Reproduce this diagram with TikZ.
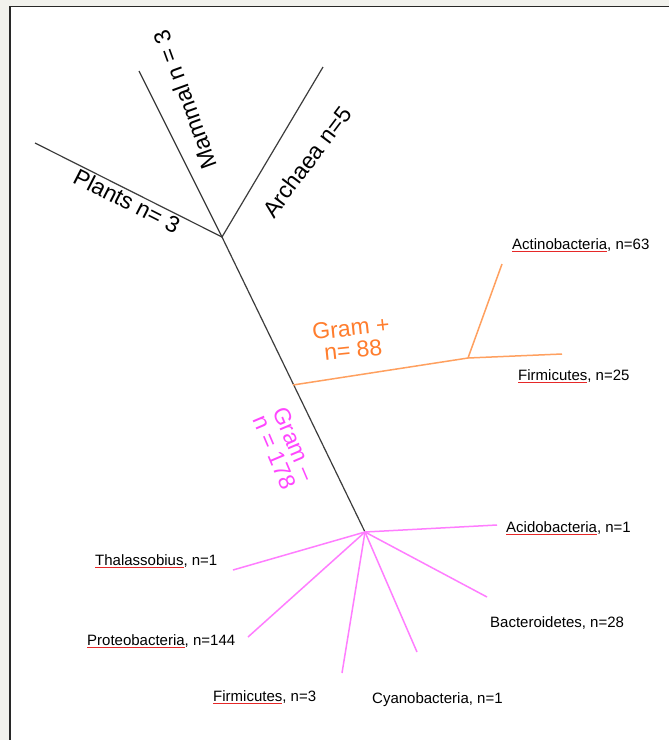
\documentclass[tikz,border=0pt]{standalone}
\usepackage{fontspec}
\setmainfont{Liberation Sans}
\definecolor{PageGray}{RGB}{242,242,237}
\definecolor{FrameDark}{RGB}{40,40,40}
\definecolor{StemGray}{RGB}{60,60,60}
\definecolor{PosLine}{RGB}{255,160,95}
\definecolor{PosText}{RGB}{255,125,45}
\definecolor{NegLine}{RGB}{255,125,255}
\definecolor{NegText}{RGB}{255,70,255}
\definecolor{SpellRed}{RGB}{230,40,40}
\newlength{\spellwd}
\newcommand{\spellmark}[1]{\settowidth{\spellwd}{#1}\rlap{\textcolor{SpellRed}{\rule[-0.35ex]{\spellwd}{0.8pt}}}#1}
\usetikzlibrary{positioning}

\begin{document}
\begin{tikzpicture}[
    x=1pt, y=-1pt,
    stem/.style={line width=1.2pt, StemGray},
    gplus/.style={line width=1.5pt, PosLine},
    gminus/.style={line width=1.5pt, NegLine},
    clade/.style={font=\fontsize{23}{22}\selectfont, inner sep=0pt, align=center},
    taxon/.style={font=\fontsize{15}{17}\selectfont, inner sep=0pt, anchor=west}
]
    \useasboundingbox (0,0) rectangle (669,740);
    \fill[PageGray] (0,0) rectangle (669,740);
    \fill[white] (10,6.5) rectangle (669,740);
    \draw[line width=1.6pt, FrameDark] (10,740) -- (10,6.5) -- (669,6.5);

    % branch points and tips
    \coordinate (root) at (222,237);
    \coordinate (plants) at (35,143);
    \coordinate (mammal) at (139,71);
    \coordinate (archaea) at (323,67);
    \coordinate (posfork) at (293,385);
    \coordinate (posjoin) at (468,358);
    \coordinate (actino) at (502,264);
    \coordinate (firmpos) at (562,354);
    \coordinate (neghub) at (365,532);
    \coordinate (acido) at (497,525);
    \coordinate (thal) at (233,570);
    \coordinate (proteo) at (248,637);
    \coordinate (firmneg) at (342,673);
    \coordinate (cyano) at (417,652);
    \coordinate (bacter) at (487,597);

    \draw[stem] (root) -- (plants);
    \draw[stem] (root) -- (mammal);
    \draw[stem] (root) -- (archaea);
    \draw[stem] (root) -- (neghub);

    \draw[gplus] (posfork) -- (posjoin) -- (firmpos);
    \draw[gplus] (posjoin) -- (actino);

    \foreach \tip in {acido,thal,proteo,firmneg,cyano,bacter}
        \draw[gminus] (neghub) -- (\tip);

    % clade labels
    \node[clade, rotate=-27] (plantslbl) at (127,201) {Plants n= 3};
    \node[clade, rotate=110] (mammallbl) at (185,100) {Mammal n = 3};
    \node[clade, rotate=53] (archaealbl) at (307,162) {Archaea n=5};
    \node[clade, rotate=6, text=PosText] (poslbl) at (352,339) {Gram +\\n= 88};
    \node[clade, rotate=-67, text=NegText] (neglbl) at (285,448) {Gram –\\n = 178};

    % tip labels
    \node[taxon] (actinolbl) at (512,245) {\spellmark{Actinobacteria}, n=63};
    \node[taxon] (firmposlbl) at (518,376) {\spellmark{Firmicutes}, n=25};
    \node[taxon] (acidolbl) at (506,528) {\spellmark{Acidobacteria}, n=1};
    \node[taxon] (bacterlbl) at (490,623) {Bacteroidetes, n=28};
    \node[taxon] (thallbl) at (95,561) {\spellmark{Thalassobius}, n=1};
    \node[taxon] (proteolbl) at (87,641) {\spellmark{Proteobacteria}, n=144};
    \node[taxon] (firmneglbl) at (213,697) {\spellmark{Firmicutes}, n=3};
    \node[taxon] (cyanolbl) at (372,700) {Cyanobacteria, n=1};
\end{tikzpicture}
\end{document}
